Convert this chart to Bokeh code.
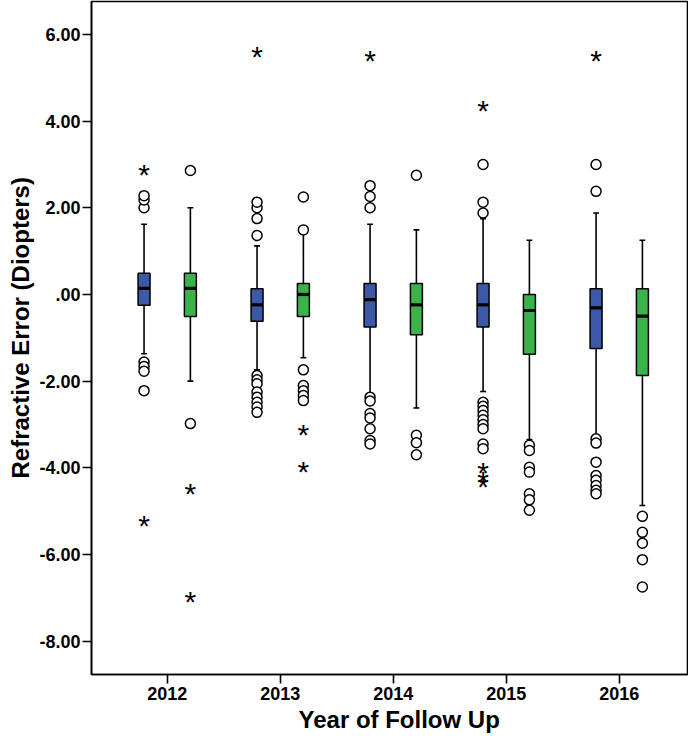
from bokeh.plotting import figure
from bokeh.models import Range1d, FixedTicker, Title
from bokeh.core.properties import value
from bokeh.embed import file_html
from bokeh.resources import INLINE

years = ["2012", "2013", "2014", "2015", "2016"]

# Group 1 (blue)
q1_b = [-0.25, -0.62, -0.75, -0.75, -1.25]
med_b = [0.14, -0.24, -0.12, -0.24, -0.31]
q3_b = [0.49, 0.13, 0.25, 0.25, 0.13]
lo_b = [-1.37, -1.74, -2.30, -2.24, -3.25]
hi_b = [1.62, 1.12, 1.62, 1.75, 1.88]
out_b = [
    [2.0, 2.18, 2.28, -1.56, -1.66, -1.77, -2.22],
    [1.36, 1.75, 2.0, 2.13, -1.87, -1.97, -2.06, -2.25, -2.37, -2.49, -2.6, -2.72],
    [2.0, 2.26, 2.51, -2.37, -2.46, -2.75, -2.85, -3.1, -3.37, -3.45],
    [1.88, 2.13, 3.0, -2.49, -2.58, -2.68, -2.79, -2.89, -3.0, -3.1, -3.45, -3.56],
    [2.38, 3.0, -3.33, -3.43, -3.87, -4.18, -4.29, -4.41, -4.52, -4.6],
]
ext_b = [
    [2.86, -5.25],
    [5.59],
    [5.48],
    [4.34, -4.02, -4.23, -4.33],
    [5.48],
]

# Group 2 (green)
q1_g = [-0.51, -0.51, -0.93, -1.38, -1.87]
med_g = [0.14, 0.0, -0.24, -0.37, -0.50]
q3_g = [0.49, 0.25, 0.25, 0.0, 0.13]
lo_g = [-2.0, -1.46, -2.62, -3.35, -4.87]
hi_g = [2.0, 1.40, 1.49, 1.25, 1.25]
out_g = [
    [2.86, -2.98],
    [1.49, 2.25, -1.74, -2.1, -2.22, -2.33, -2.45],
    [2.75, -3.25, -3.42, -3.7],
    [-3.48, -3.6, -3.99, -4.1, -4.6, -4.74, -4.98],
    [-5.12, -5.49, -5.74, -6.12, -6.75],
]
ext_g = [
    [-4.51, -7.0],
    [-3.14, -4.0],
    [],
    [],
    [],
]

y_ticks = [-8, -6, -4, -2, 0, 2, 4, 6]
y_tick_labels = ["-8.00", "-6.00", "-4.00", "-2.00", ".00", "2.00", "4.00", "6.00"]

BLUE = "#3D58A9"
GREEN = "#3AB44A"
OFF = 0.205
BW = 0.106
CAP = 0.026
FONT = "Liberation Sans"
STAR_PX = 30

p = figure(width=688, height=734, output_backend="svg", toolbar_location=None,
           x_range=Range1d(-0.67, 4.604), y_range=Range1d(-8.77, 6.76),
           min_border_left=91, min_border_right=1, min_border_top=1, min_border_bottom=60)
p.xgrid.visible = False
p.ygrid.visible = False
p.outline_line_color = "black"
p.outline_line_width = 1.6
p.background_fill_color = "white"


def draw(offset, q1, med, q3, lo, hi, outs, exts, color):
    xs = [i + offset for i in range(len(years))]
    # whiskers
    p.segment(x0=xs, y0=q3, x1=xs, y1=hi, line_color="black", line_width=1.6)
    p.segment(x0=xs, y0=q1, x1=xs, y1=lo, line_color="black", line_width=1.6)
    p.segment(x0=[x - CAP for x in xs], y0=hi, x1=[x + CAP for x in xs], y1=hi,
              line_color="black", line_width=1.6)
    p.segment(x0=[x - CAP for x in xs], y0=lo, x1=[x + CAP for x in xs], y1=lo,
              line_color="black", line_width=1.6)
    # boxes
    p.quad(left=[x - BW / 2 for x in xs], right=[x + BW / 2 for x in xs],
           bottom=q1, top=q3, fill_color=color, line_color="black", line_width=1.5)
    p.segment(x0=[x - BW / 2 for x in xs], y0=med, x1=[x + BW / 2 for x in xs], y1=med,
              line_color="black", line_width=3.2)
    # outliers (circles)
    ox, oy = [], []
    for x, vals in zip(xs, outs):
        ox += [x] * len(vals)
        oy += vals
    p.scatter(x=ox, y=oy, marker="circle", size=10, fill_color="white",
              line_color="black", line_width=1.5)
    # extremes (asterisks)
    ex, ey = [], []
    for x, vals in zip(xs, exts):
        ex += [x] * len(vals)
        ey += vals
    p.text(x=ex, y=ey, text=["*"] * len(ex), text_font=value(FONT),
           text_font_size=f"{STAR_PX}px", text_align="center", text_baseline="alphabetic",
           y_offset=4, text_color="black")


draw(-OFF, q1_b, med_b, q3_b, lo_b, hi_b, out_b, ext_b, BLUE)
draw(OFF, q1_g, med_g, q3_g, lo_g, hi_g, out_g, ext_g, GREEN)

# axes
p.yaxis.ticker = FixedTicker(ticks=y_ticks)
p.yaxis.major_label_overrides = {t: l for t, l in zip(y_ticks, y_tick_labels)}
p.xaxis.ticker = FixedTicker(ticks=list(range(len(years))))
p.xaxis.major_label_overrides = {i: y for i, y in enumerate(years)}

for ax in (p.xaxis[0], p.yaxis[0]):
    ax.axis_line_width = 1.6
    ax.axis_line_color = "black"
    ax.major_tick_line_width = 1.6
    ax.major_tick_line_color = "black"
    ax.major_tick_out = 9
    ax.major_tick_in = 0
    ax.minor_tick_out = 0
    ax.minor_tick_in = 0
    ax.major_label_text_font = FONT
    ax.major_label_text_font_style = "bold"
    ax.major_label_text_font_size = "18px"
    ax.major_label_text_color = "black"

p.yaxis.major_label_standoff = 2
p.xaxis.major_label_standoff = 3

# axis titles (side titles so they can be positioned like the original)
xt = Title(text="Year of Follow Up", align="left", offset=207, standoff=2,
           text_font=FONT, text_font_style="bold", text_font_size="24px",
           text_color="black")
yt = Title(text="Refractive Error (Diopters)", align="left", offset=196, standoff=6,
           text_font=FONT, text_font_style="bold", text_font_size="24px",
           text_color="black")
p.add_layout(xt, "below")
p.add_layout(yt, "left")

open("out.html", "w").write(file_html(p, INLINE))
